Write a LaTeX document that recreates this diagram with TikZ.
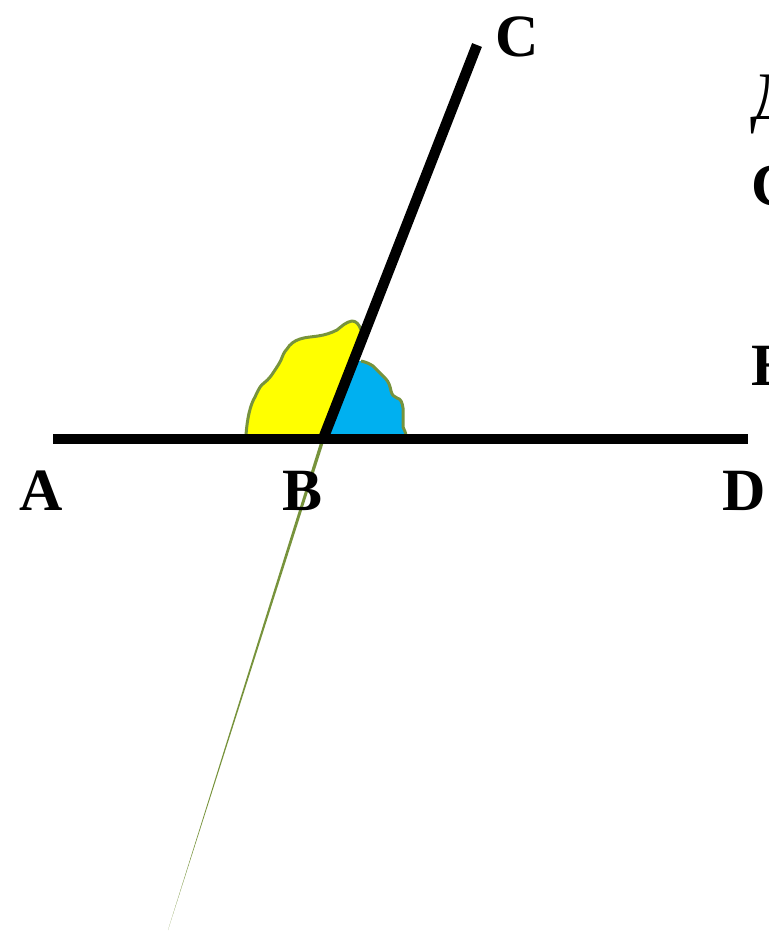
\documentclass[tikz,border=0pt]{standalone}
\usepackage{fontspec}
\setmainfont{Liberation Serif}
\usetikzlibrary{calc}
\begin{document}
\begin{tikzpicture}[x=1pt,y=-1pt,
  ray/.style={line width=10.5pt,black},
  region/.style={draw={rgb,255:red,119;green,147;blue,60},line width=3pt,line join=round},
  lbl/.style={font=\fontsize{60}{64}\selectfont\bfseries,inner sep=0pt,anchor=base}]
\useasboundingbox (0,0) rectangle (768,936);
\clip (0,0) rectangle (768,936);
\definecolor{ylw}{RGB}{255,255,0}
\definecolor{blu}{RGB}{0,176,240}
\definecolor{olv}{RGB}{119,147,60}
\coordinate (Aend) at (53,439);
\coordinate (Dend) at (748,439);
\coordinate (B) at (323,439);
\coordinate (C) at (477,45);
\coordinate (E) at (168,930);
% thin tapering line
\fill[olv] ($(B)+(-1.8,0)$) -- ($(B)+(1.8,0)$) -- (E) -- cycle;
% yellow region
\fill[ylw] (246,435) .. controls (247,420) and (250,405) .. (255,397)
  .. controls (259,388) and (261,385) .. (264,383)
  .. controls (269,379) and (271,376) .. (273,373)
  .. controls (277,367) and (279,364) .. (281,360)
  .. controls (283,355) and (284,352) .. (287,349)
  .. controls (290,344) and (294,341) .. (300,339)
  .. controls (306,337) and (312,337) .. (318,336)
  .. controls (325,335) and (331,333) .. (337,330)
  .. controls (342,326) and (346,322) .. (352,321)
  .. controls (356,321) and (359,324) .. (361,330)
  -- (B) -- cycle;
\draw[region] (246,437) -- (246,435) .. controls (247,420) and (250,405) .. (255,397)
  .. controls (259,388) and (261,385) .. (264,383)
  .. controls (269,379) and (271,376) .. (273,373)
  .. controls (277,367) and (279,364) .. (281,360)
  .. controls (283,355) and (284,352) .. (287,349)
  .. controls (290,344) and (294,341) .. (300,339)
  .. controls (306,337) and (312,337) .. (318,336)
  .. controls (325,335) and (331,333) .. (337,330)
  .. controls (342,326) and (346,322) .. (352,321)
  .. controls (356,321) and (359,324) .. (361,330);
% blue region
\fill[blu] (355,361) -- (361,361) .. controls (366,362) and (370,364) .. (373,366)
  .. controls (376,369) and (380,373) .. (385,378)
  .. controls (389,382) and (390,386) .. (391,391)
  .. controls (392,395) and (394,397) .. (397,398)
  .. controls (401,399) and (402,402) .. (403,408)
  .. controls (403,415) and (403,422) .. (403,427)
  .. controls (404,430) and (406,432) .. (406,436)
  -- (B) -- cycle;
\draw[region] (361,361) .. controls (366,362) and (370,364) .. (373,366)
  .. controls (376,369) and (380,373) .. (385,378)
  .. controls (389,382) and (390,386) .. (391,391)
  .. controls (392,395) and (394,397) .. (397,398)
  .. controls (401,399) and (402,402) .. (403,408)
  .. controls (403,415) and (403,422) .. (403,427)
  .. controls (404,430) and (406,432) .. (406,437);
% main rays
\draw[ray] (Aend) -- (Dend);
\draw[ray] (B) -- (C);
% labels
\node[lbl] (lA) at (41,510) {A};
\node[lbl] (lB) at (303,510) {B};
\node[lbl] (lC) at (517,57) {C};
\node[lbl] (lD) at (744,510) {D};
% clipped text at right edge
\node[lbl,anchor=base west,font=\fontsize{68}{70}\selectfont] (t1) at (750,120) {Д};
\node[lbl,anchor=base west] (t2) at (751,205) {С};
\node[lbl,anchor=base west] (t3) at (751,385) {Е};
\end{tikzpicture}
\end{document}
